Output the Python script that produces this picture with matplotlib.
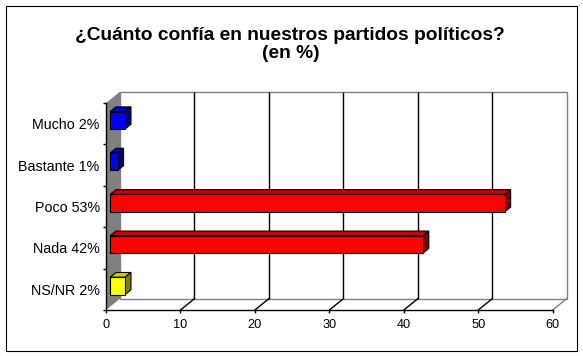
import numpy as np
import matplotlib
matplotlib.use("Agg")
import matplotlib.pyplot as plt
from matplotlib.patches import Polygon, Rectangle
from matplotlib.transforms import ScaledTranslation, IdentityTransform

# data
categories = ["Mucho 2%", "Bastante 1%", "Poco 53%", "Nada 42%", "NS/NR 2%"]
values = [2, 1, 53, 42, 2]
front_colors = ["#0000ff", "#0000ff", "#ff0000", "#ff0000", "#ffff00"]
top_colors = ["#0000cc", "#0000cc", "#cc0000", "#cc0000", "#cccc00"]
side_colors = ["#000080", "#000080", "#800000", "#800000", "#808000"]
xticks = [0, 10, 20, 30, 40, 50, 60]

W, H = 583, 356
DPI = 100
fig = plt.figure(figsize=(W / DPI, H / DPI), dpi=DPI)
fig.patch.set_facecolor("white")
plt.rcParams["font.family"] = ["Liberation Sans", "DejaVu Sans"]

# front plane of the fake 3d box, in pixels
x0, x1 = 106, 552.7
ytop, ybot = 103, 310
ax = fig.add_axes([x0 / W, 1 - ybot / H, (x1 - x0) / W, (ybot - ytop) / H])
ax.set_facecolor("none")
n = len(categories)
ax.set_xlim(0, 60)
ax.set_ylim(n - 0.5, -0.5)

# depth offset (display px, y up)
D = np.array([14.0, 11.3])
d1, d2 = 0.30, 0.72


def shift(d):
    return ax.transData + ScaledTranslation(d * D[0] / DPI, d * D[1] / DPI, fig.dpi_scale_trans)


def proj(x, y, d):
    return ax.transData.transform((x, y)) + d * D


def poly(pts, **kw):
    p = Polygon(pts, closed=True, transform=IdentityTransform(), clip_on=False, **kw)
    ax.add_patch(p)
    return p


lo, hi = n - 0.5, -0.5

# back wall
ax.add_patch(Rectangle((0, hi), 60, n, transform=shift(1), facecolor="white",
                       edgecolor="#808080", lw=1, clip_on=False, zorder=0.2))
ax.vlines(xticks[1:-1], hi, lo, colors="black", lw=1, transform=shift(1),
          clip_on=False, zorder=0.3)
# left wall
poly([proj(0, hi, 0), proj(0, hi, 1), proj(0, lo, 1), proj(0, lo, 0)],
     facecolor="#808080", edgecolor="none", zorder=0.4)
# floor diagonals
for t in xticks[1:]:
    a = proj(t, lo, 0)
    b = proj(t, lo, 1)
    col = "#808080" if t == 60 else "black"
    ax.plot([a[0], b[0]], [a[1], b[1]], color=col, lw=1,
            transform=IdentityTransform(), clip_on=False, zorder=0.35)

# bars
bh = 0.42
ypos = np.arange(n)
ax.barh(ypos, values, height=bh, left=0, color=front_colors, edgecolor="black",
        lw=0.8, transform=shift(d1), clip_on=False, zorder=3)
for yy, v, tc, sc in zip(ypos, values, top_colors, side_colors):
    yt = yy - bh / 2
    yb = yy + bh / 2
    poly([proj(0, yt, d1), proj(v, yt, d1), proj(v, yt, d2), proj(0, yt, d2)],
         facecolor=tc, edgecolor="black", lw=0.8, zorder=2.9)
    poly([proj(v, yt, d1), proj(v, yb, d1), proj(v, yb, d2), proj(v, yt, d2)],
         facecolor=sc, edgecolor="black", lw=0.8, zorder=2.9)

# axes / ticks
for s in ["top", "right"]:
    ax.spines[s].set_visible(False)
for s in ["left", "bottom"]:
    ax.spines[s].set_color("black")
    ax.spines[s].set_linewidth(1)
    ax.spines[s].set_zorder(5)
ax.set_xticks(xticks)
ax.set_xticklabels([str(t) for t in xticks], fontsize=9.2)
ax.tick_params(axis="x", direction="out", length=2.5, width=1, pad=4)
ax.set_yticks(ypos)
ax.set_yticklabels(categories, fontsize=10.3)
ax.set_yticks(np.arange(n + 1) - 0.5, minor=True)
ax.tick_params(axis="y", which="major", length=0, pad=4.5)
ax.tick_params(axis="y", which="minor", direction="out", length=2, width=1)

# title
fig.text(290 / W, 1 - 39.5 / H, "¿Cuánto confía en nuestros partidos políticos?",
         ha="center", va="baseline", fontsize=13.8, fontweight="bold")
fig.text(291 / W, 1 - 58 / H, "(en %)", ha="center", va="baseline",
         fontsize=13.8, fontweight="bold")

# outer frame
fig.add_artist(Rectangle((5.5 / W, 1 - 350.5 / H), 571 / W, 345 / H,
                         transform=fig.transFigure, fill=False, edgecolor="black", lw=0.8))

fig.savefig("out.png", dpi=DPI)
